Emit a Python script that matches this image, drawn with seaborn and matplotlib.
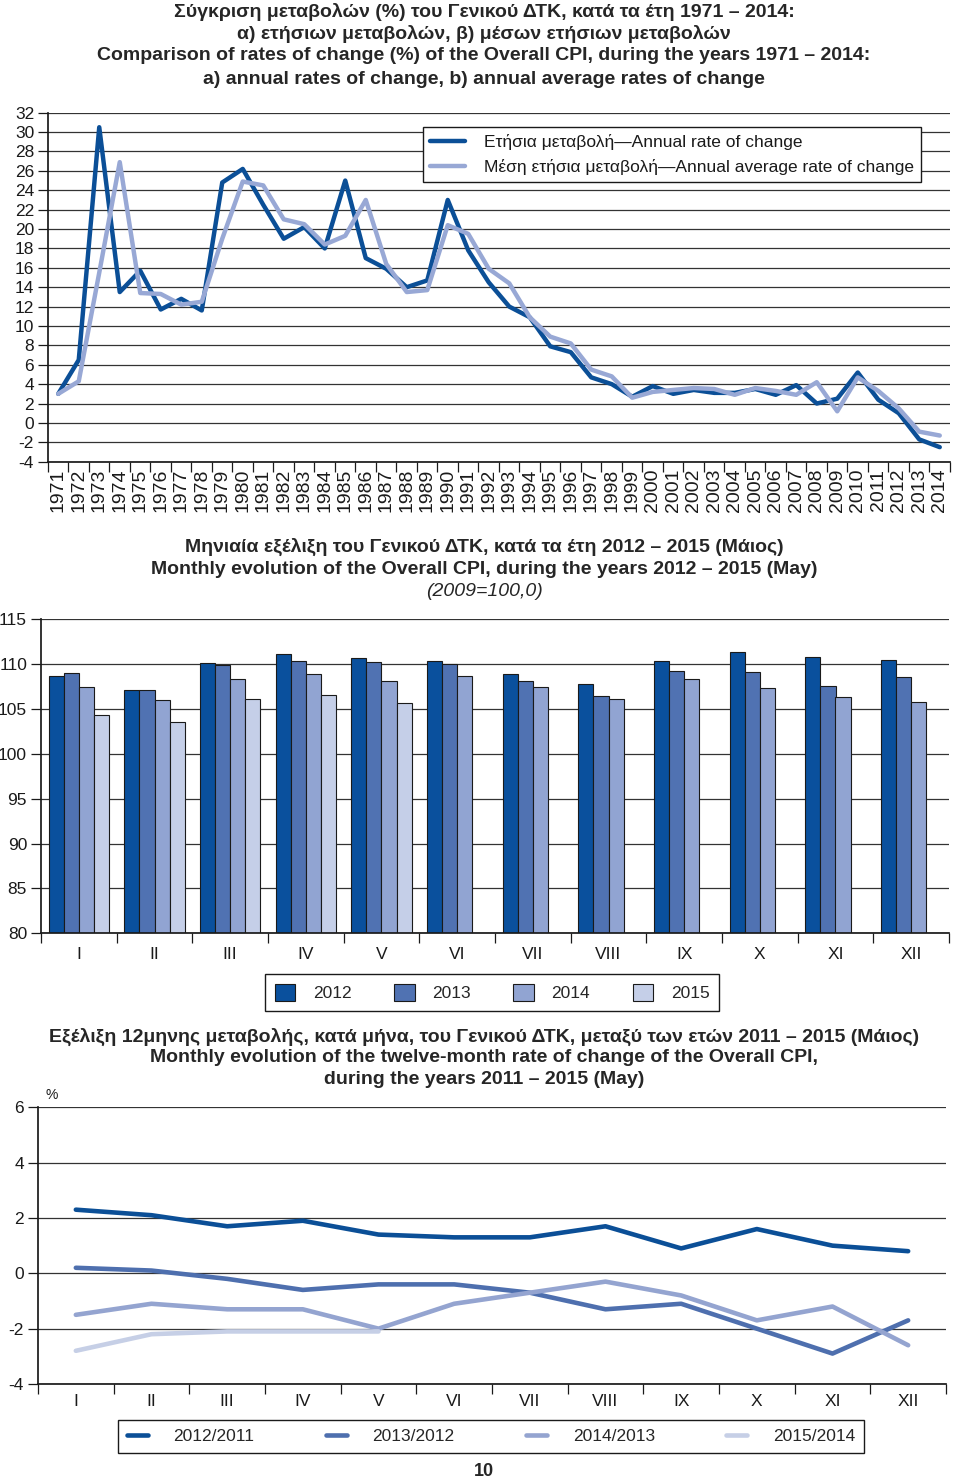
import numpy as np
import pandas as pd
import matplotlib
matplotlib.use('Agg')
import matplotlib.pyplot as plt
import seaborn as sns
from matplotlib import font_manager

# ---------------- data ----------------
# chart 1: annual vs annual average rate of change (%)
years = list(range(1971, 2015))
annual_rate = [3.0, 6.5, 30.5, 13.5, 15.7, 11.7, 12.8, 11.6, 24.8, 26.2,
               22.5, 19.0, 20.2, 18.0, 25.0, 17.0, 15.9, 14.0, 14.7, 23.0,
               17.8, 14.5, 12.0, 10.9, 7.9, 7.3, 4.7, 4.0, 2.7, 3.8,
               3.0, 3.4, 3.1, 3.1, 3.5, 2.9, 3.9, 2.0, 2.5, 5.2,
               2.4, 1.0, -1.7, -2.5]
average_rate = [3.0, 4.3, 15.5, 26.9, 13.4, 13.3, 12.2, 12.5, 19.0, 24.9,
                24.5, 21.0, 20.5, 18.4, 19.3, 23.0, 16.4, 13.5, 13.7, 20.4,
                19.5, 15.9, 14.4, 10.9, 8.9, 8.2, 5.5, 4.8, 2.6, 3.2,
                3.4, 3.6, 3.5, 2.9, 3.6, 3.3, 2.9, 4.2, 1.2, 4.7,
                3.3, 1.5, -0.9, -1.3]
label_annual = 'Ετήσια μεταβολή—Annual rate of change'
label_average = 'Μέση ετήσια μεταβολή—Annual average rate of change'

# chart 2: monthly CPI index (2009=100)
months = ['I', 'II', 'III', 'IV', 'V', 'VI', 'VII', 'VIII', 'IX', 'X', 'XI', 'XII']
cpi_2012 = [108.7, 107.1, 110.1, 111.1, 110.7, 110.4, 108.9, 107.8, 110.4, 111.4, 110.8, 110.5]
cpi_2013 = [109.0, 107.1, 109.9, 110.4, 110.2, 110.0, 108.1, 106.4, 109.2, 109.1, 107.6, 108.6]
cpi_2014 = [107.4, 106.0, 108.4, 108.9, 108.1, 108.7, 107.4, 106.1, 108.3, 107.3, 106.3, 105.8]
cpi_2015 = [104.3, 103.6, 106.1, 106.6, 105.7]
bar_years = ['2012', '2013', '2014', '2015']

# chart 3: twelve-month rate of change (%)
rate_12_11 = [2.3, 2.1, 1.7, 1.9, 1.4, 1.3, 1.3, 1.7, 0.9, 1.6, 1.0, 0.8]
rate_13_12 = [0.2, 0.1, -0.2, -0.6, -0.4, -0.4, -0.7, -1.3, -1.1, -2.0, -2.9, -1.7]
rate_14_13 = [-1.5, -1.1, -1.3, -1.3, -2.0, -1.1, -0.7, -0.3, -0.8, -1.7, -1.2, -2.6]
rate_15_14 = [-2.8, -2.2, -2.1, -2.1, -2.1]
rate_labels = ['2012/2011', '2013/2012', '2014/2013', '2015/2014']

# colours
dark = '#0b4f97'
light = '#98a8d5'
bar_colors = ['#0a509d', '#5072b2', '#91a4d2', '#c5cfe8']
line_colors = ['#0b4f97', '#4e6fae', '#94a4d0', '#c6cfe6']
grid_col = '#333333'

# ---------------- style ----------------
sns.set_theme(style='white')
plt.rcParams['font.family'] = ['Liberation Sans', 'DejaVu Sans']
plt.rcParams['axes.unicode_minus'] = False
avail = {f.name for f in font_manager.fontManager.ttflist}
title_font = 'Liberation Sans Narrow' if 'Liberation Sans Narrow' in avail else 'Liberation Sans'
title_family = [title_font, 'DejaVu Sans']

W, H = 960, 1480
fig = plt.figure(figsize=(W / 100, H / 100), dpi=100)


def box(x0, y0, x1, y1):
    # pixel box -> figure fraction rect
    return [x0 / W, 1 - y1 / H, (x1 - x0) / W, (y1 - y0) / H]


def title_line(y, text, size=14, weight='bold', style='normal'):
    fig.text(484 / W, 1 - y / H, text, ha='center', va='center', fontsize=size,
             fontweight=weight, fontstyle=style, family=title_family)


def style_axes(ax):
    for s in ['top', 'right']:
        ax.spines[s].set_visible(False)
    ax.spines['left'].set_color('#1a1a1a')
    ax.spines['bottom'].set_color('#1a1a1a')
    ax.yaxis.grid(True, color=grid_col, linewidth=0.9)
    ax.xaxis.grid(False)
    ax.set_xlabel('')
    ax.set_ylabel('')
    ax.tick_params(axis='y', which='major', left=True, length=7, width=0.9,
                   color='#1a1a1a', pad=3, labelsize=12.5, labelcolor='#1a1a1a')
    ax.tick_params(axis='x', which='major', bottom=True, length=0, labelcolor='#1a1a1a')
    ax.tick_params(axis='x', which='minor', bottom=True, length=7, width=0.9, color='#1a1a1a')


# ---------------- chart 1 ----------------
title_line(12, 'Σύγκριση μεταβολών (%) του Γενικού ΔΤΚ, κατά τα έτη 1971 – 2014:')
title_line(34, 'α) ετήσιων μεταβολών, β) μέσων ετήσιων μεταβολών')
title_line(56, 'Comparison of rates of change (%) of the Overall CPI, during the years 1971 – 2014:')
title_line(79, 'a) annual rates of change, b) annual average rates of change')

ax1 = fig.add_axes(box(48, 112.7, 950, 461.7))
df1 = pd.DataFrame({'year': years + years,
                    'value': annual_rate + average_rate,
                    'series': [label_annual] * len(years) + [label_average] * len(years)})
sns.lineplot(data=df1, x='year', y='value', hue='series',
             hue_order=[label_annual, label_average], palette=[dark, light],
             linewidth=3.2, ax=ax1)
ax1.set_xlim(1970.5, 2014.5)
ax1.set_ylim(-4, 32)
ax1.set_yticks(range(-4, 33, 2))
ax1.set_xticks(years)
ax1.set_xticklabels([str(y) for y in years], rotation=90, fontsize=14)
ax1.set_xticks(np.arange(1970.5, 2015, 1), minor=True)
style_axes(ax1)
ax1.tick_params(axis='x', which='major', pad=5)

leg = ax1.get_legend()
handles = leg.legend_handles
labels = [t.get_text() for t in leg.get_texts()]
leg.remove()
lg1 = ax1.legend(handles, labels, loc='upper left', bbox_to_anchor=(423 / W, 1 - 127 / H),
                 bbox_transform=fig.transFigure, borderaxespad=0, frameon=True, fancybox=False,
                 edgecolor='#1a1a1a', framealpha=1, fontsize=12.5, handlelength=2.0,
                 handletextpad=1.1, borderpad=0.42, labelspacing=0.5)
lg1.get_frame().set_linewidth(1.0)
for t in lg1.get_texts():
    t.set_color('#1a1a1a')

# ---------------- chart 2 ----------------
title_line(547, 'Μηνιαία εξέλιξη του Γενικού ΔΤΚ, κατά τα έτη 2012 – 2015 (Μάιος)')
title_line(569, 'Monthly evolution of the Overall CPI, during the years 2012 – 2015 (May)')
title_line(591, '(2009=100,0)', weight='normal', style='italic')

ax2 = fig.add_axes(box(41, 619.3, 949, 933.3))
rows = []
for yr, vals in zip(bar_years, [cpi_2012, cpi_2013, cpi_2014, cpi_2015]):
    for m, v in zip(months, vals):
        rows.append((m, yr, v))
df2 = pd.DataFrame(rows, columns=['month', 'year', 'value'])
sns.barplot(data=df2, x='month', y='value', hue='year', order=months, hue_order=bar_years,
            palette=bar_colors, saturation=1, width=0.8, gap=0, edgecolor='#1a1a1a',
            linewidth=0.8, errorbar=None, ax=ax2)
ax2.set_ylim(80, 115)
ax2.set_yticks(range(80, 116, 5))
ax2.set_xlim(-0.5, 11.5)
ax2.set_xticks(np.arange(-0.5, 12, 1), minor=True)
ax2.set_axisbelow(True)
style_axes(ax2)
ax2.tick_params(axis='x', which='major', labelsize=12.5, pad=10)

leg = ax2.get_legend()
handles = leg.legend_handles
labels = [t.get_text() for t in leg.get_texts()]
leg.remove()
lg2 = ax2.legend(handles, labels, loc='upper left', bbox_to_anchor=(265 / W, 1 - 974 / H),
                 bbox_transform=fig.transFigure, borderaxespad=0, ncol=4, frameon=True,
                 fancybox=False, edgecolor='#1a1a1a', framealpha=1, fontsize=12.5,
                 handlelength=1.2, handleheight=1.2, handletextpad=1.0, columnspacing=2.45,
                 borderpad=0.55)
lg2.get_frame().set_linewidth(1.0)
for p in lg2.legend_handles:
    p.set_edgecolor('#1a1a1a')
    p.set_linewidth(0.8)

# ---------------- chart 3 ----------------
title_line(1037, 'Εξέλιξη 12μηνης μεταβολής, κατά μήνα, του Γενικού ΔΤΚ, μεταξύ των ετών 2011 – 2015 (Μάιος)')
title_line(1058, 'Monthly evolution of the twelve-month rate of change of the Overall CPI,')
title_line(1080, 'during the years 2011 – 2015 (May)')

ax3 = fig.add_axes(box(38, 1107.3, 946, 1384))
rows = []
for lab, vals in zip(rate_labels, [rate_12_11, rate_13_12, rate_14_13, rate_15_14]):
    for m, v in zip(months, vals):
        rows.append((m, lab, v))
df3 = pd.DataFrame(rows, columns=['month', 'series', 'value'])
sns.lineplot(data=df3, x='month', y='value', hue='series', hue_order=rate_labels,
             palette=line_colors, linewidth=3.3, sort=False, ax=ax3)
ax3.set_ylim(-4, 6)
ax3.set_yticks(range(-4, 7, 2))
ax3.set_xlim(-0.5, 11.5)
ax3.set_xticks(range(12))
ax3.set_xticklabels(months)
ax3.set_xticks(np.arange(-0.5, 12, 1), minor=True)
style_axes(ax3)
ax3.tick_params(axis='x', which='major', labelsize=12.5, pad=7)
fig.text(52 / W, 1 - 1095 / H, '%', ha='center', va='center', fontsize=10, color='#1a1a1a')

leg = ax3.get_legend()
handles = leg.legend_handles
labels = [t.get_text() for t in leg.get_texts()]
leg.remove()
lg3 = ax3.legend(handles, labels, loc='upper left', bbox_to_anchor=(118 / W, 1 - 1420 / H),
                 bbox_transform=fig.transFigure, borderaxespad=0, ncol=4, frameon=True,
                 fancybox=False, edgecolor='#1a1a1a', framealpha=1, fontsize=12.5,
                 handlelength=1.2, handletextpad=1.5, columnspacing=4.1, borderpad=0.5)
lg3.get_frame().set_linewidth(1.0)

fig.text(484 / W, 1 - 1471 / H, '10', ha='center', va='center', fontsize=13,
         fontweight='bold', family=title_family)

fig.savefig('out.png', dpi=100)
